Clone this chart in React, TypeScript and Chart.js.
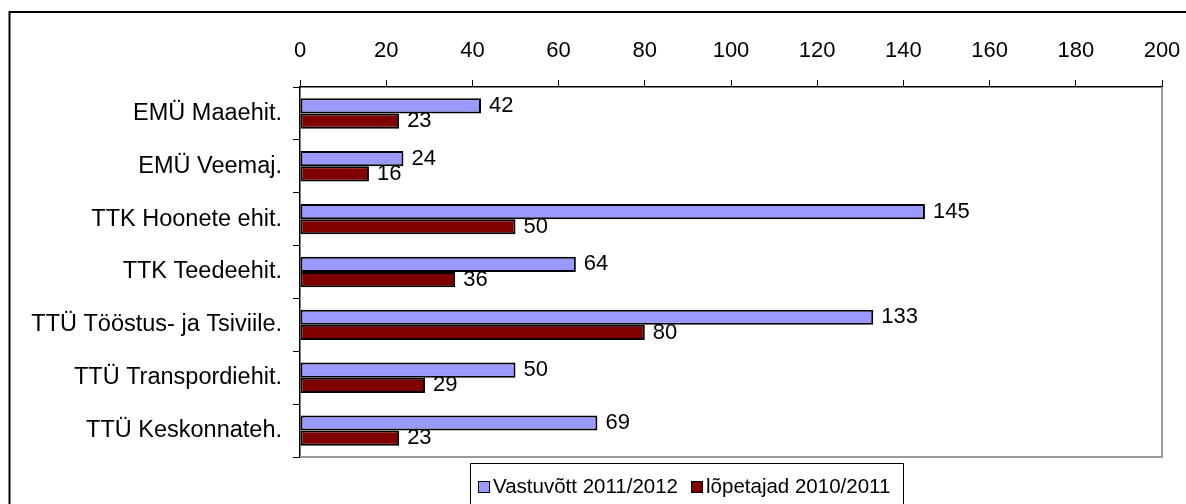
import React, { useEffect, useRef } from "react";
import { Chart, registerables } from "chart.js";

Chart.register(...registerables);

const categories = [
  "EMÜ Maaehit.",
  "EMÜ Veemaj.",
  "TTK Hoonete ehit.",
  "TTK Teedeehit.",
  "TTÜ Tööstus- ja Tsiviile.",
  "TTÜ Transpordiehit.",
  "TTÜ Keskonnateh.",
];
const vastuvott = [42, 24, 145, 64, 133, 50, 69];
const lopetajad = [23, 16, 50, 36, 80, 29, 23];
const seriesLabels = ["Vastuvõtt 2011/2012", "lõpetajad 2010/2011"];
const seriesColors = ["#9999FF", "#800000"];

const FONT = "'Liberation Sans', Arial, sans-serif";

const frameAndLabels = {
  id: "frameAndLabels",
  afterDatasetsDraw(chart: any) {
    const ctx = chart.ctx;
    const ca = chart.chartArea;
    ctx.save();
    ctx.strokeStyle = "#999999";
    ctx.lineWidth = 2;
    ctx.beginPath();
    ctx.moveTo(ca.right, ca.top);
    ctx.lineTo(ca.right, ca.bottom);
    ctx.lineTo(ca.left, ca.bottom);
    ctx.stroke();
    ctx.fillStyle = "#000";
    ctx.font = `22px ${FONT}`;
    ctx.textAlign = "left";
    ctx.textBaseline = "middle";
    chart.data.datasets.forEach((ds: any, di: number) => {
      const meta = chart.getDatasetMeta(di);
      meta.data.forEach((el: any, i: number) => {
        ctx.fillText(String(ds.data[i]), el.x + 8, el.y);
      });
    });
    ctx.restore();
  },
  afterDraw(chart: any) {
    const ctx = chart.ctx;
    ctx.save();
    ctx.strokeStyle = "#000";
    ctx.lineWidth = 2;
    ctx.beginPath();
    ctx.moveTo(9.5, 600);
    ctx.lineTo(9.5, 12);
    ctx.lineTo(1300, 12);
    ctx.stroke();
    ctx.lineWidth = 1;
    ctx.strokeStyle = "#000";
    ctx.beginPath();
    ctx.moveTo(470.5, 600);
    ctx.lineTo(470.5, 463.5);
    ctx.lineTo(903.5, 463.5);
    ctx.lineTo(903.5, 600);
    ctx.stroke();
    ctx.font = `20.5px ${FONT}`;
    ctx.textBaseline = "middle";
    ctx.textAlign = "left";
    let x = 478;
    const cy = 487;
    chart.data.datasets.forEach((ds: any) => {
      ctx.fillStyle = ds.backgroundColor;
      ctx.fillRect(x, cy - 6, 12, 12);
      ctx.strokeStyle = "#000";
      ctx.lineWidth = 1;
      ctx.strokeRect(x + 0.5, cy - 5.5, 11, 11);
      ctx.fillStyle = "#000";
      ctx.fillText(ds.label, x + 15, cy);
      x += 15 + ctx.measureText(ds.label).width + 13;
    });
    ctx.restore();
  },
};

export default function App() {
  const ref = useRef<HTMLCanvasElement>(null);
  useEffect(() => {
    document.body.style.margin = "0";
    document.body.style.overflow = "hidden";
    document.documentElement.style.overflow = "hidden";
    const chart = new Chart(ref.current!, {
      type: "bar",
      data: {
        labels: categories,
        datasets: [
          {
            label: seriesLabels[0],
            data: vastuvott,
            backgroundColor: seriesColors[0],
            borderColor: "#000",
            borderWidth: 2,
            borderSkipped: false,
          },
          {
            label: seriesLabels[1],
            data: lopetajad,
            backgroundColor: seriesColors[1],
            borderColor: "#000",
            borderWidth: 2,
            borderSkipped: false,
          },
        ],
      },
      options: {
        indexAxis: "y",
        responsive: false,
        animation: false,
        devicePixelRatio: 1,
        categoryPercentage: 0.575,
        barPercentage: 1,
        layout: { padding: { left: 10, right: 24, top: 0, bottom: 47 } },
        plugins: {
          legend: { display: false },
          tooltip: { enabled: false },
        },
        scales: {
          x: {
            type: "linear",
            position: "top",
            min: 0,
            max: 200,
            ticks: {
              stepSize: 20,
              color: "#000",
              padding: 16,
              font: { family: FONT, size: 22 },
            },
            grid: {
              drawOnChartArea: false,
              tickLength: 7,
              color: "#000",
            },
            border: { color: "#000", width: 1.5 },
            afterFit: (s: any) => {
              s.height = 87;
              s.paddingRight = 0;
              s.paddingLeft = 0;
            },
          },
          y: {
            type: "category",
            position: "left",
            ticks: {
              color: "#000",
              padding: 11,
              font: { family: FONT, size: 23.5 },
            },
            grid: {
              offset: true,
              drawOnChartArea: false,
              tickLength: 7,
              color: "#000",
            },
            border: { color: "#000", width: 1.5 },
            afterFit: (s: any) => {
              s.width = 290;
              s.paddingTop = 0;
              s.paddingBottom = 0;
            },
          },
        },
      } as any,
      plugins: [frameAndLabels],
    });
    return () => chart.destroy();
  }, []);
  return (
    <div style={{ width: 1186, height: 504, background: "#fff" }}>
      <canvas ref={ref} width={1186} height={504} style={{ display: "block" }} />
    </div>
  );
}
